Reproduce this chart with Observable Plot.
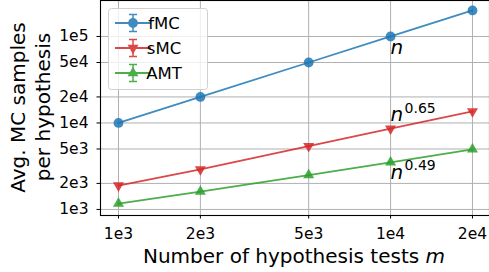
<!DOCTYPE html>
<html><head><meta charset="utf-8">
<script src="https://cdn.jsdelivr.net/npm/d3@7"></script>
<script src="https://cdn.jsdelivr.net/npm/@observablehq/plot@0.6"></script>
<style>body{margin:0;background:#fff} svg{display:block;font-family:"DejaVu Sans",sans-serif}</style>
</head><body><div id="chart"></div>
<script>
const m = [1000, 2000, 5000, 10000, 20000];
const fMC = [10000, 20000, 50000, 100000, 200000];
const sMC = [1890, 2900, 5400, 8600, 13600];
const AMT = [1170, 1610, 2500, 3500, 4950];
const xTicks = [1000, 2000, 5000, 10000, 20000];
const xTickLabels = ["1e3", "2e3", "5e3", "1e4", "2e4"];
const yTicks = [1000, 2000, 5000, 10000, 20000, 50000, 100000];
const yTickLabels = ["1e3", "2e3", "5e3", "1e4", "2e4", "5e4", "1e5"];
const series = ["fMC", "sMC", "AMT"];
const colors = ["#1f77b4", "#d62728", "#2ca02c"];
const annBase = ["n", "n", "n"];
const annExp = ["", "0.65", "0.49"];
const annX = [10000, 10000, 10000];
const annY = [100000, 8600, 3500];

const values = [fMC, sMC, AMT];
const rows = series.flatMap((s, i) => m.map((x, j) => ({series: s, x, y: values[i][j]})));
const ann = series.map((s, i) => ({x: annX[i], y: annY[i], base: annBase[i], exp: annExp[i]}));
const xLab = xTicks.map((v, i) => ({v, t: xTickLabels[i]}));
const yLab = yTicks.map((v, i) => ({v, t: yTickLabels[i]}));
const op = 0.85;

const plot = Plot.plot({
  width: 489, height: 272,
  marginLeft: 100, marginRight: 0, marginTop: 0, marginBottom: 57,
  style: {fontFamily: "DejaVu Sans", fontSize: "16px", background: "#fff", color: "#000"},
  x: {type: "log", domain: [Math.pow(10, 2.9339), Math.pow(10, 4.3636)]},
  y: {type: "log", domain: [Math.pow(10, 2.93), Math.pow(10, 5.416)]},
  color: {domain: series, range: colors},
  marks: [
    Plot.gridX(xTicks, {stroke: "#b0b0b0", strokeOpacity: 1, strokeWidth: 1}),
    Plot.gridY(yTicks, {stroke: "#b0b0b0", strokeOpacity: 1, strokeWidth: 1}),
    Plot.line(rows, {x: "x", y: "y", stroke: "series", strokeWidth: 1.8, strokeOpacity: op}),
    Plot.dot(rows.filter(d => d.series === "fMC"), {x: "x", y: "y", fill: "series", symbol: "circle", r: 4.9, fillOpacity: op}),
    Plot.dot(rows.filter(d => d.series === "sMC"), {x: "x", y: "y", fill: "series", symbol: "triangle", r: 4.1, rotate: 180, fillOpacity: op}),
    Plot.dot(rows.filter(d => d.series === "AMT"), {x: "x", y: "y", fill: "series", symbol: "triangle", r: 4.1, fillOpacity: op}),
    Plot.text([ann[0]], {x: "x", y: "y", text: "base", textAnchor: "start", lineAnchor: "middle", dy: 11, fontSize: 20, fontStyle: "oblique", fill: "#000"}),
    Plot.text([ann[1]], {x: "x", y: "y", text: "base", textAnchor: "start", lineAnchor: "middle", dy: -14, fontSize: 20, fontStyle: "oblique", fill: "#000"}),
    Plot.text([ann[2]], {x: "x", y: "y", text: "base", textAnchor: "start", lineAnchor: "middle", dy: 10, fontSize: 20, fontStyle: "oblique", fill: "#000"}),
    Plot.text([ann[1]], {x: "x", y: "y", text: "exp", textAnchor: "start", lineAnchor: "middle", dx: 14, dy: -20, fontSize: 14, fill: "#000"}),
    Plot.text([ann[2]], {x: "x", y: "y", text: "exp", textAnchor: "start", lineAnchor: "middle", dx: 14, dy: 3, fontSize: 14, fill: "#000"}),
    Plot.frame({stroke: "#000", strokeWidth: 1.1}),
    Plot.axisX(xTicks, {tickFormat: () => "", tickSize: 3.5, label: null}),
    Plot.axisY(yTicks, {tickFormat: () => "", tickSize: 3.5, label: null}),
    Plot.text(xLab, {x: "v", text: "t", frameAnchor: "bottom", lineAnchor: "top", dy: 12, fontSize: 15.5, fill: "#000"}),
    Plot.text(yLab, {y: "v", text: "t", frameAnchor: "left", textAnchor: "end", lineAnchor: "middle", dx: -12, fontSize: 15.5, fill: "#000"})
  ]
});
document.getElementById("chart").appendChild(plot);

const svg = d3.select(plot);
svg.append("text").attr("x", 294).attr("y", 263).attr("text-anchor", "middle")
  .style("font-size", "20px").style("font-family", "DejaVu Sans")
  .html('Number of hypothesis tests <tspan font-style="oblique">m</tspan>');
svg.append("text").attr("transform", "translate(25,107.5) rotate(-90)").attr("text-anchor", "middle")
  .style("font-size", "20px").style("font-family", "DejaVu Sans").text("Avg. MC samples");
svg.append("text").attr("transform", "translate(50,107) rotate(-90)").attr("text-anchor", "middle")
  .style("font-size", "20px").style("font-family", "DejaVu Sans").text("per hypothesis");

// legend
const lg = svg.append("g");
lg.append("rect").attr("x", 108.5).attr("y", 8.5).attr("width", 99).attr("height", 81).attr("rx", 3)
  .attr("fill", "#fff").attr("fill-opacity", 0.8).attr("stroke", "#d0d0d0");
const sym = [d3.symbolCircle, d3.symbolTriangle, d3.symbolTriangle];
const sizes = [75, 52, 52];
const rot = [0, 180, 0];
series.forEach((s, i) => {
  const cy = 23 + i * 25;
  const g = lg.append("g").attr("opacity", op);
  g.append("line").attr("x1", 115).attr("x2", 151).attr("y1", cy).attr("y2", cy).attr("stroke", colors[i]).attr("stroke-width", 1.8);
  g.append("line").attr("x1", 133).attr("x2", 133).attr("y1", cy - 8.5).attr("y2", cy + 8.5).attr("stroke", colors[i]).attr("stroke-width", 1.5);
  g.append("line").attr("x1", 129).attr("x2", 137).attr("y1", cy - 8.5).attr("y2", cy - 8.5).attr("stroke", colors[i]).attr("stroke-width", 1.5);
  g.append("line").attr("x1", 129).attr("x2", 137).attr("y1", cy + 8.5).attr("y2", cy + 8.5).attr("stroke", colors[i]).attr("stroke-width", 1.5);
  g.append("path").attr("d", d3.symbol(sym[i], sizes[i])()).attr("transform", `translate(133,${cy}) rotate(${rot[i]})`).attr("fill", colors[i]);
  lg.append("text").attr("x", 164).attr("y", cy).attr("dy", "0.36em").style("font-size", "16.5px").style("font-family", "DejaVu Sans").text(s);
});
</script></body></html>
